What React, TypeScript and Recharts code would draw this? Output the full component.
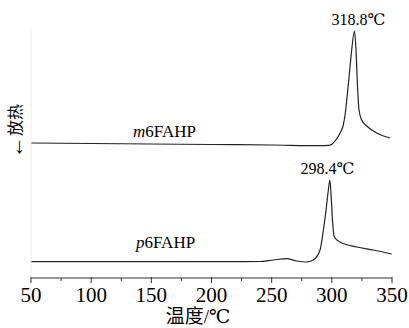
import React from 'react'
import { LineChart, Line, XAxis, YAxis, ReferenceDot } from 'recharts'

// DSC curves, heat flow in arbitrary units (exotherm up)
const m6Temps = [50, 100, 150, 200, 250, 290, 297, 300, 303, 306.8, 309.5, 311, 312.4, 315.1, 316.5, 318.8, 320.1, 321.2, 322.6, 324.8, 329, 337.3, 348.3]
const m6Heat = [135, 134.5, 134, 133.5, 133, 132.3, 132.6, 133.8, 137.5, 144.7, 153, 163, 178, 211, 228, 247, 228, 195, 168, 158, 152, 145, 140]

const p6Temps = [50, 100, 150, 200, 240, 251.4, 262.5, 270.8, 279.1, 284.6, 290.2, 293, 295.2, 297.1, 298.4, 299.6, 300.7, 302.1, 306.8, 320.7, 334.5, 349.8]
const p6Heat = [16.3, 16.3, 16.4, 16.3, 16.5, 18, 19.3, 17, 16, 18, 28, 48, 68, 88, 98, 78, 55, 41, 36, 31, 28, 24]

const xTicks = [50, 75, 100, 125, 150, 175, 200, 225, 250, 275, 300, 325, 350]

const m6Data = m6Temps.map((t, i) => ({ t, v: m6Heat[i] }))
const p6Data = p6Temps.map((t, i) => ({ t, v: p6Heat[i] }))

const serif = 'Liberation Serif, Times New Roman, DejaVu Serif, Noto Sans CJK SC, serif'

const AxisTick = (props: any) => {
  const { x, y, payload } = props
  const major = payload.value % 50 === 0
  return (
    <g>
      <line x1={x} y1={major ? y - 1 : y} x2={x} y2={y + (major ? 5 : 3)} stroke="#333" strokeWidth={1} />
      {major && (
        <text x={x} y={y + 23.5} textAnchor="middle" style={{ fontSize: 21, fontFamily: serif }} fill="#000">
          {payload.value}
        </text>
      )}
    </g>
  )
}

const textLabel = (value: string, dx: number, dy: number, size: number, italicFirst = false) => (props: any) => {
  const { viewBox } = props
  const cx = viewBox.x + (viewBox.width || 0) / 2
  const cy = viewBox.y + (viewBox.height || 0) / 2
  return (
    <text x={cx + dx} y={cy + dy} textAnchor="middle" style={{ fontSize: size, fontFamily: serif }} fill="#000">
      {italicFirst ? (
        <>
          <tspan fontStyle="italic">{value[0]}</tspan>
          {value.slice(1)}
        </>
      ) : (
        value
      )}
    </text>
  )
}

const App = () => {
  return (
    <div style={{ position: 'fixed', left: 0, top: 0, background: '#fff' }}>
      <LineChart width={409} height={328} margin={{ top: 28, right: 17, bottom: 0, left: 0 }}>
        <XAxis
          dataKey="t"
          type="number"
          domain={[50, 350]}
          ticks={xTicks}
          allowDataOverflow
          height={50}
          tickSize={0}
          tickMargin={0}
          tickLine={false}
          axisLine={{ stroke: '#333' }}
          tick={<AxisTick />}
          label={{
            content: (p: any) => (
              <text
                x={198}
                y={p.viewBox.y + 45}
                textAnchor="middle"
                style={{ fontSize: 19, fontFamily: serif }}
                fill="#000"
              >
                温度/℃
              </text>
            ),
          }}
        />
        <YAxis
          type="number"
          domain={[0, 250]}
          width={31}
          tick={false}
          tickLine={false}
          axisLine={{ stroke: '#ececec' }}
          label={{
            content: () => (
              <text
                x={15}
                y={131}
                transform="rotate(-90, 15, 131)"
                textAnchor="middle"
                dominantBaseline="central"
                style={{ fontSize: 16, fontFamily: serif }}
                fill="#000"
              >
                <tspan style={{ fontSize: 22 }}>←</tspan>
                放热
              </text>
            ),
          }}
        />
        <Line
          data={m6Data}
          dataKey="v"
          type="monotone"
          stroke="#222"
          strokeWidth={1.2}
          dot={false}
          isAnimationActive={false}
        />
        <Line
          data={p6Data}
          dataKey="v"
          type="monotone"
          stroke="#222"
          strokeWidth={1.2}
          dot={false}
          isAnimationActive={false}
        />
        <ReferenceDot x={318.8} y={247} r={0} fill="none" stroke="none" label={{ content: textLabel('318.8℃', 4, -6, 16) }} />
        <ReferenceDot x={298.4} y={98} r={0} fill="none" stroke="none" label={{ content: textLabel('298.4℃', -2.5, -6.5, 16) }} />
        <ReferenceDot x={161} y={140.7} r={0} fill="none" stroke="none" label={{ content: textLabel('m6FAHP', 0, 0, 17, true) }} />
        <ReferenceDot x={161.8} y={30} r={0} fill="none" stroke="none" label={{ content: textLabel('p6FAHP', 0, 0, 17, true) }} />
      </LineChart>
    </div>
  )
}

export default App
